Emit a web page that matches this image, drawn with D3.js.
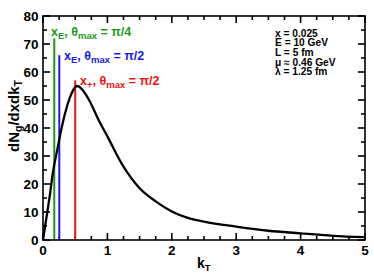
<!DOCTYPE html>
<html><head><meta charset="utf-8">
<script src="https://cdn.jsdelivr.net/npm/d3@7"></script>
<style>
body{margin:0;background:#fff;}
text{font-family:"Liberation Sans",Arial,Helvetica,sans-serif;font-weight:bold;}
</style></head>
<body><svg id="c" width="374" height="279"></svg>
<script>
const kT = [0, 0.05, 0.1, 0.16, 0.22, 0.28, 0.34, 0.42, 0.5, 0.53, 0.6, 0.73, 0.85, 1.0, 1.25, 1.5, 1.75, 2.0, 2.25, 2.5, 3.0, 3.5, 4.0, 4.5, 5.0];
const dN = [0, 7.5, 15, 25, 32, 39, 45, 51, 54.6, 55, 54, 49.4, 43.5, 37, 26.2, 18.5, 13.8, 10.2, 7.9, 6.6, 4.8, 3.3, 2.4, 1.5, 1.0];
const markerX = [0.175, 0.253, 0.5];
const markerTop = [72, 66, 57];
const markerColors = ["#1a9a1a", "#1a1aee", "#ee1111"];
const xTicks = [0, 1, 2, 3, 4, 5];
const yTicks = [0, 10, 20, 30, 40, 50, 60, 70, 80];
const infoLines = ["x = 0.025", "E = 10 GeV", "L = 5 fm", "μ ≈ 0.46 GeV", "λ = 1.25 fm"];

const svg = d3.select("#c");
const L = 43, R = 365, T = 16, B = 240;
const x = d3.scaleLinear().domain([0, 5]).range([L, R]);
const y = d3.scaleLinear().domain([0, 80]).range([B, T]);

const xMinorT = d3.range(0, 5.001, 0.25);
const yMinorT = d3.range(0, 80.001, 5);

// ticks drawn as rects (inward)
xMinorT.forEach(v => {
  const len = (Math.abs(v - Math.round(v)) < 1e-6) ? 7 : 4;
  const xv = x(v);
  svg.append("rect").attr("x", xv - 0.8).attr("y", B - len).attr("width", 1.6).attr("height", len).attr("fill", "#000");
  svg.append("rect").attr("x", xv - 0.8).attr("y", T).attr("width", 1.6).attr("height", len).attr("fill", "#000");
});
yMinorT.forEach(v => {
  const len = (v % 10 === 0) ? 7 : 4;
  const yv = y(v);
  svg.append("rect").attr("x", L).attr("y", yv - 0.8).attr("width", len).attr("height", 1.6).attr("fill", "#000");
  svg.append("rect").attr("x", R - len).attr("y", yv - 0.8).attr("width", len).attr("height", 1.6).attr("fill", "#000");
});

// tick labels
svg.selectAll(".xl").data(xTicks).enter().append("text")
  .attr("x", d => x(d)).attr("y", 255).attr("text-anchor", "middle")
  .attr("font-size", 13.5).text(d => d);
svg.selectAll(".yl").data(yTicks).enter().append("text")
  .attr("x", 38.5).attr("y", d => y(d) + 4.8).attr("text-anchor", "end")
  .attr("font-size", 13.5).text(d => d);

// marker lines
markerX.forEach((v, i) => {
  svg.append("line").attr("x1", x(v)).attr("x2", x(v)).attr("y1", y(0)).attr("y2", y(markerTop[i]))
    .attr("stroke", markerColors[i]).attr("stroke-width", 2);
});

// curve
const line = d3.line().x(d => x(d[0])).y(d => y(d[1])).curve(d3.curveMonotoneX);
svg.append("path").datum(kT.map((k, i) => [k, dN[i]])).attr("d", line)
  .attr("fill", "none").attr("stroke", "#000").attr("stroke-width", 2.3);

// frame
svg.append("rect").attr("x", L).attr("y", T).attr("width", R - L).attr("height", B - T)
  .attr("fill", "none").attr("stroke", "#000").attr("stroke-width", 1.6);

// marker labels
function label(tx, ty, color, sub1, thetaVal, main) {
  const t = svg.append("text").attr("x", tx).attr("y", ty).attr("fill", color).attr("font-size", 12.5);
  t.append("tspan").text(main);
  t.append("tspan").attr("font-size", 9.5).attr("dy", 3).text(sub1);
  t.append("tspan").attr("dy", -3).text(", θ");
  t.append("tspan").attr("font-size", 9.5).attr("dy", 3).text("max");
  t.append("tspan").attr("dy", -3).text(" = " + thetaVal);
}
label(51, 36, markerColors[0], "E", "π/4", "x");
label(64, 60, markerColors[1], "E", "π/2", "x");
label(80, 85, markerColors[2], "+", "π/2", "x");

// info text
svg.selectAll(".info").data(infoLines).enter().append("text")
  .attr("x", 275).attr("y", (d, i) => 36.5 + i * 9.7)
  .attr("font-size", 10.2).text(d => d);

// axis titles
const xt = svg.append("text").attr("x", 197).attr("y", 268).attr("font-size", 14);
xt.append("tspan").text("k");
xt.append("tspan").attr("font-size", 9.5).attr("dy", 3).text("T");

const yt = svg.append("text").attr("transform", "translate(19,116) rotate(-90)")
  .attr("text-anchor", "middle").attr("font-size", 15);
yt.append("tspan").text("dN");
yt.append("tspan").attr("font-size", 10.5).attr("dy", 3).text("g");
yt.append("tspan").attr("dy", -3).text("/dxdk");
yt.append("tspan").attr("font-size", 10.5).attr("dy", 3).text("T");
</script></body></html>
